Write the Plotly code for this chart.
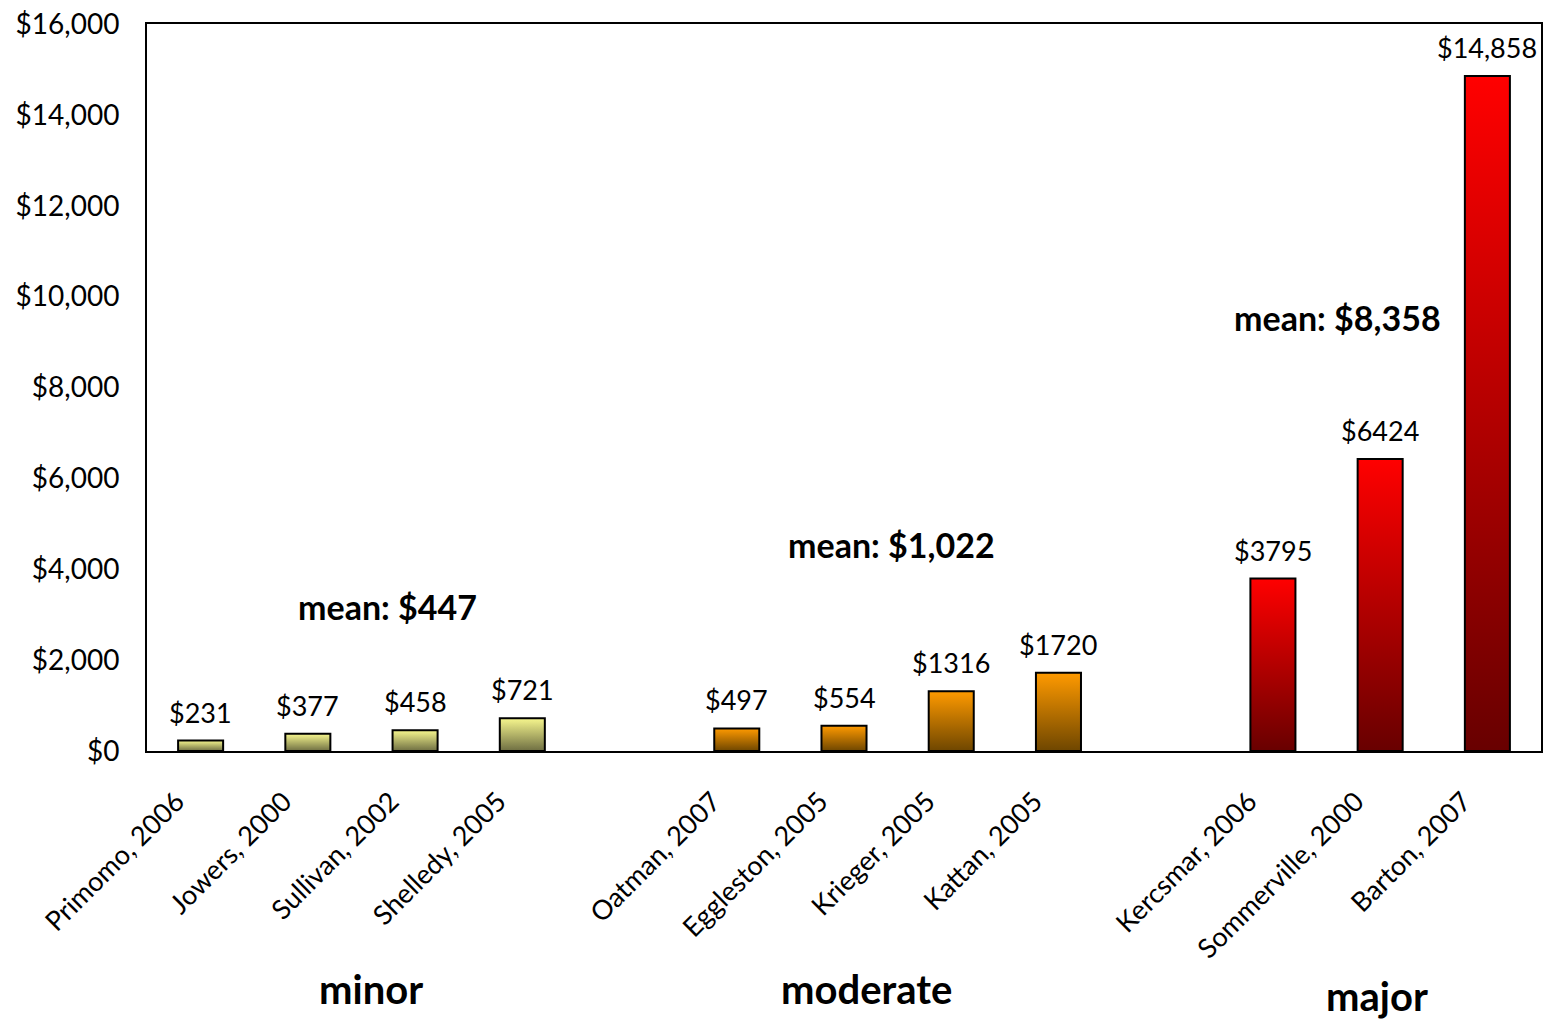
import plotly.graph_objects as go

# ---- data ----
studies = ["Primomo, 2006", "Jowers, 2000", "Sullivan, 2002", "Shelledy, 2005",
           "Oatman, 2007", "Eggleston, 2005", "Krieger, 2005", "Kattan, 2005",
           "Kercsmar, 2006", "Sommerville, 2000", "Barton, 2007"]
costs = [231, 377, 458, 721, 497, 554, 1316, 1720, 3795, 6424, 14858]
cost_labels = ["$231", "$377", "$458", "$721", "$497", "$554", "$1316", "$1720",
               "$3795", "$6424", "$14,858"]
groups = ["minor"] * 4 + ["moderate"] * 4 + ["major"] * 3
group_names = ["minor", "moderate", "major"]
group_means = ["mean: $447", "mean: $1,022", "mean: $8,358"]

# ---- styles ----
FONT = "Lato"
grad = {
    "minor": ("#6e6e42", "#f7f78e"),
    "moderate": ("#6e4600", "#ff9a00"),
    "major": ("#680000", "#ff0000"),
}
bar_w = 0.42
# slot positions (gap slot between groups)
positions = []
pos = 0
prev = None
for g in groups:
    if prev is not None and g != prev:
        pos += 1
    positions.append(pos)
    pos += 1
    prev = g

fig = go.Figure()
for x, v, g in zip(positions, costs, groups):
    lo, hi = grad[g]
    fig.add_trace(go.Scatter(
        x=[x - bar_w / 2, x - bar_w / 2, x + bar_w / 2, x + bar_w / 2, x - bar_w / 2],
        y=[0, v, v, 0, 0],
        mode="lines", fill="toself",
        fillgradient=dict(type="vertical", colorscale=[[0, lo], [1, hi]]),
        line=dict(color="black", width=2),
        showlegend=False, hoverinfo="skip",
    ))

for x, v, t in zip(positions, costs, cost_labels):
    fig.add_annotation(x=x, y=v, text=t, showarrow=False, yanchor="bottom",
                       yshift=10, font=dict(family=FONT, size=27, color="black"))

mean_pos = [(1.74, 3170), (6.44, 4534), (10.60, 9530)]
for (mx, my), t in zip(mean_pos, group_means):
    fig.add_annotation(x=mx, y=my, text="<b>" + t + "</b>", showarrow=False,
                       font=dict(family=FONT, size=34, color="black"))

group_pos = [(1.59, -0.363), (6.21, -0.363), (10.97, -0.373)]
for (gx, gy), t in zip(group_pos, group_names):
    fig.add_annotation(x=gx, y=gy, yref="paper", text="<b>" + t + "</b>",
                       showarrow=False,
                       font=dict(family=FONT, size=40, color="black"))

fig.update_xaxes(
    range=[-0.5, 12.5], tickvals=positions, ticktext=studies, tickangle=-45,
    tickfont=dict(family=FONT, size=27, color="black"),
    showgrid=False, zeroline=False, showline=True, linecolor="black",
    linewidth=2, mirror=True, ticks="", ticklabelstandoff=22,
    ticklabelshift=-24,
)
fig.update_yaxes(
    range=[0, 16000], tickvals=list(range(0, 16001, 2000)),
    ticktext=["$0", "$2,000", "$4,000", "$6,000", "$8,000", "$10,000",
              "$12,000", "$14,000", "$16,000"],
    tickfont=dict(family=FONT, size=28, color="black"),
    showgrid=False, zeroline=False, showline=True, linecolor="black",
    linewidth=2, mirror=True, ticks="", ticklabelstandoff=20,
)
fig.update_layout(
    width=1545, height=1021,
    margin=dict(l=147, r=2, t=24, b=270),
    plot_bgcolor="white", paper_bgcolor="white",
    showlegend=False,
)
fig.write_html("out.html")
